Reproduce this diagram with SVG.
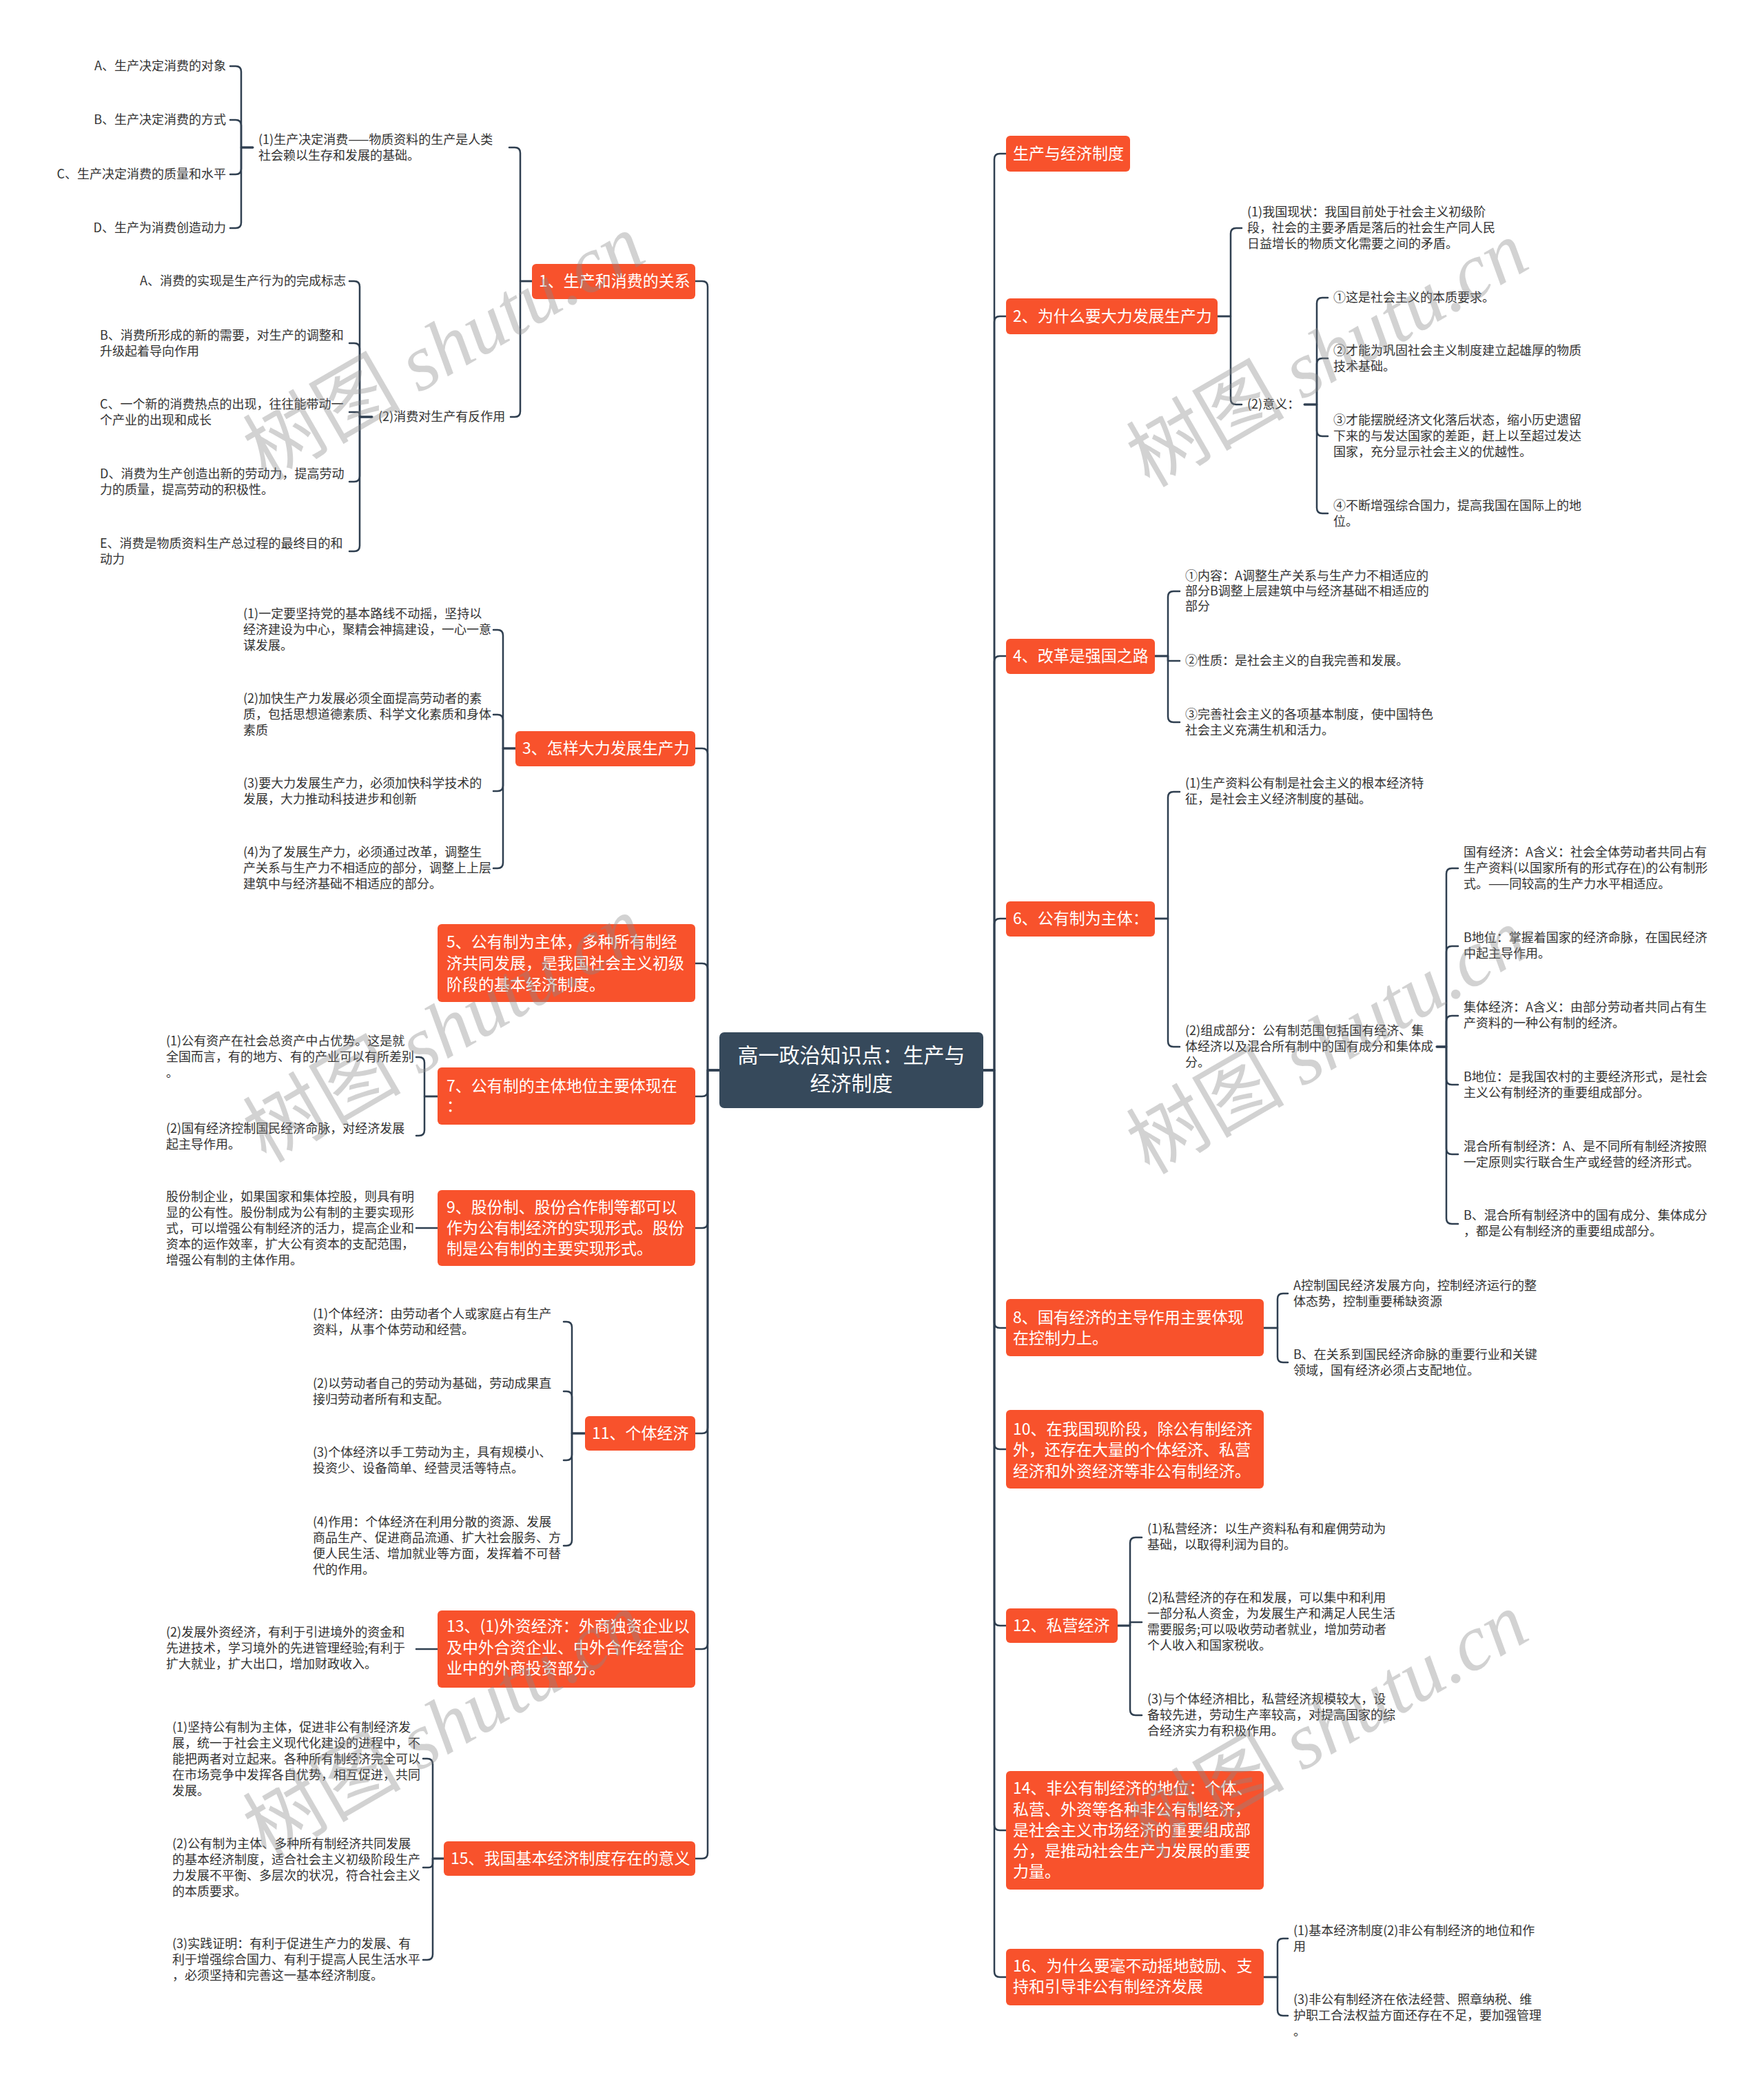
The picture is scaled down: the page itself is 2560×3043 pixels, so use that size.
<svg xmlns="http://www.w3.org/2000/svg" width="2560" height="3043" viewBox="0 0 2560 3043">
<style>
.t{font-family:"Noto Sans CJK SC","Noto Sans",sans-serif;font-size:18px;fill:#333}
.o{font-family:"Noto Sans CJK SC","Noto Sans",sans-serif;font-size:23px;fill:#fff}
.ob{fill:#f8522c}
.c{fill:none;stroke:#2f3f50;stroke-width:2.5;stroke-linecap:round;stroke-linejoin:round}
.wm{font-family:"Noto Sans CJK SC","Liberation Serif",serif;font-size:115px;fill:#8a8a8a;fill-opacity:.38}
.wl{font-family:"Liberation Serif",serif;font-style:italic}
</style>
<rect width="2560" height="3043" fill="#fff"/>
<g id="connectors">
<path class="c" d="M1044 1553 H1027 V416 Q1027 408 1019 408 H1009"/>
<path class="c" d="M1044 1553 H1027 V1094 Q1027 1086 1019 1086 H1009"/>
<path class="c" d="M1044 1553 H1027 V1406 Q1027 1398 1019 1398 H1009"/>
<path class="c" d="M1044 1553 H1027 V1583 Q1027 1591 1019 1591 H1009"/>
<path class="c" d="M1044 1553 H1027 V1774 Q1027 1782 1019 1782 H1009"/>
<path class="c" d="M1044 1553 H1027 V2072 Q1027 2080 1019 2080 H1009"/>
<path class="c" d="M1044 1553 H1027 V2385 Q1027 2393 1019 2393 H1009"/>
<path class="c" d="M1044 1553 H1027 V2689 Q1027 2697 1019 2697 H1009"/>
<path class="c" d="M772 408 H755 V222 Q755 214 747 214 H739"/>
<path class="c" d="M772 408 H755 V597 Q755 605 747 605 H741"/>
<path class="c" d="M367 214 H350 V104 Q350 96 342 96 H334"/>
<path class="c" d="M367 214 H350 V182 Q350 174 342 174 H334"/>
<path class="c" d="M367 214 H350 V245 Q350 253 342 253 H334"/>
<path class="c" d="M367 214 H350 V323 Q350 331 342 331 H334"/>
<path class="c" d="M540 605 H522 V416 Q522 408 514 408 H507"/>
<path class="c" d="M540 605 H522 V506 Q522 498 514 498 H507"/>
<path class="c" d="M540 605 H522 V601 Q522 598 519 598 H507"/>
<path class="c" d="M540 605 H522 V691 Q522 699 514 699 H507"/>
<path class="c" d="M540 605 H522 V792 Q522 800 514 800 H507"/>
<path class="c" d="M748 1086 H730 V922 Q730 914 722 914 H716"/>
<path class="c" d="M748 1086 H730 V1045 Q730 1037 722 1037 H716"/>
<path class="c" d="M748 1086 H730 V1140 Q730 1148 722 1148 H716"/>
<path class="c" d="M748 1086 H730 V1252 Q730 1260 722 1260 H716"/>
<path class="c" d="M635 1591 H616 V1542 Q616 1534 608 1534 H604"/>
<path class="c" d="M635 1591 H616 V1640 Q616 1648 608 1648 H604"/>
<path class="c" d="M635 1782 H604"/>
<path class="c" d="M849 2080 H830 V1926 Q830 1918 822 1918 H818"/>
<path class="c" d="M849 2080 H830 V2027 Q830 2019 822 2019 H818"/>
<path class="c" d="M849 2080 H830 V2111 Q830 2119 822 2119 H818"/>
<path class="c" d="M849 2080 H830 V2235 Q830 2243 822 2243 H818"/>
<path class="c" d="M635 2393 H604"/>
<path class="c" d="M644 2697 H628 V2560 Q628 2552 620 2552 H614"/>
<path class="c" d="M644 2697 H628 V2704 Q628 2710 622 2710 H614"/>
<path class="c" d="M644 2697 H628 V2836 Q628 2844 620 2844 H614"/>
<path class="c" d="M1427 1553 H1443 V231 Q1443 223 1451 223 H1460"/>
<path class="c" d="M1427 1553 H1443 V467 Q1443 459 1451 459 H1460"/>
<path class="c" d="M1427 1553 H1443 V960 Q1443 952 1451 952 H1460"/>
<path class="c" d="M1427 1553 H1443 V1341 Q1443 1333 1451 1333 H1460"/>
<path class="c" d="M1427 1553 H1443 V1919 Q1443 1927 1451 1927 H1460"/>
<path class="c" d="M1427 1553 H1443 V2095 Q1443 2103 1451 2103 H1460"/>
<path class="c" d="M1427 1553 H1443 V2351 Q1443 2359 1451 2359 H1460"/>
<path class="c" d="M1427 1553 H1443 V2648 Q1443 2656 1451 2656 H1460"/>
<path class="c" d="M1427 1553 H1443 V2861 Q1443 2869 1451 2869 H1460"/>
<path class="c" d="M1767 459 H1786 V339 Q1786 331 1794 331 H1802"/>
<path class="c" d="M1767 459 H1786 V579 Q1786 587 1794 587 H1802"/>
<path class="c" d="M1893 587 H1911 V440 Q1911 432 1919 432 H1927"/>
<path class="c" d="M1893 587 H1911 V528 Q1911 520 1919 520 H1927"/>
<path class="c" d="M1893 587 H1911 V625 Q1911 633 1919 633 H1927"/>
<path class="c" d="M1893 587 H1911 V737 Q1911 745 1919 745 H1927"/>
<path class="c" d="M1676 952 H1695 V866 Q1695 858 1703 858 H1712"/>
<path class="c" d="M1676 952 H1695 V959 H1712"/>
<path class="c" d="M1676 952 H1695 V1040 Q1695 1048 1703 1048 H1712"/>
<path class="c" d="M1676 1333 H1695 V1157 Q1695 1149 1703 1149 H1712"/>
<path class="c" d="M1676 1333 H1695 V1511 Q1695 1519 1703 1519 H1712"/>
<path class="c" d="M2085 1519 H2099 V1268 Q2099 1260 2107 1260 H2116"/>
<path class="c" d="M2085 1519 H2099 V1381 Q2099 1373 2107 1373 H2116"/>
<path class="c" d="M2085 1519 H2099 V1482 Q2099 1474 2107 1474 H2116"/>
<path class="c" d="M2085 1519 H2099 V1566 Q2099 1574 2107 1574 H2116"/>
<path class="c" d="M2085 1519 H2099 V1667 Q2099 1675 2107 1675 H2116"/>
<path class="c" d="M2085 1519 H2099 V1768 Q2099 1776 2107 1776 H2116"/>
<path class="c" d="M1834 1927 H1854 V1885 Q1854 1877 1862 1877 H1869"/>
<path class="c" d="M1834 1927 H1854 V1969 Q1854 1977 1862 1977 H1869"/>
<path class="c" d="M1622 2359 H1640 V2239 Q1640 2231 1648 2231 H1657"/>
<path class="c" d="M1622 2359 H1640 V2354 H1657"/>
<path class="c" d="M1622 2359 H1640 V2481 Q1640 2489 1648 2489 H1657"/>
<path class="c" d="M1834 2869 H1854 V2821 Q1854 2813 1862 2813 H1869"/>
<path class="c" d="M1834 2869 H1854 V2917 Q1854 2925 1862 2925 H1869"/>
</g>
<g id="root">
<rect x="1044" y="1498" width="383" height="110" rx="7" fill="#36495b"/>
<text x="1235.5" y="1542" text-anchor="middle" font-family="Noto Sans CJK SC, Noto Sans, sans-serif" font-size="30" fill="#fff">高一政治知识点：生产与</text>
<text x="1235.5" y="1583" text-anchor="middle" font-family="Noto Sans CJK SC, Noto Sans, sans-serif" font-size="30" fill="#fff">经济制度</text>
</g>
<g id="n1"><rect class="ob" x="772" y="383" width="237" height="51" rx="6"/><text class="o" x="782" y="416">1、生产和消费的关系</text></g>
<g id="n1-1"><text class="t" x="375" y="209">(1)生产决定消费——物质资料的生产是人类</text><text class="t" x="375" y="232">社会赖以生存和发展的基础。</text></g>
<g id="n1-1-a"><text class="t" x="328" y="102" text-anchor="end">A、生产决定消费的对象</text></g>
<g id="n1-1-b"><text class="t" x="328" y="180" text-anchor="end">B、生产决定消费的方式</text></g>
<g id="n1-1-c"><text class="t" x="328" y="259" text-anchor="end">C、生产决定消费的质量和水平</text></g>
<g id="n1-1-d"><text class="t" x="328" y="337" text-anchor="end">D、生产为消费创造动力</text></g>
<g id="n1-2"><text class="t" x="549" y="611">(2)消费对生产有反作用</text></g>
<g id="n1-2-a"><text class="t" x="502" y="414" text-anchor="end">A、消费的实现是生产行为的完成标志</text></g>
<g id="n1-2-b"><text class="t" x="145" y="493">B、消费所形成的新的需要，对生产的调整和</text><text class="t" x="145" y="516">升级起着导向作用</text></g>
<g id="n1-2-c"><text class="t" x="145" y="593">C、一个新的消费热点的出现，往往能带动一</text><text class="t" x="145" y="616">个产业的出现和成长</text></g>
<g id="n1-2-d"><text class="t" x="145" y="694">D、消费为生产创造出新的劳动力，提高劳动</text><text class="t" x="145" y="717">力的质量，提高劳动的积极性。</text></g>
<g id="n1-2-e"><text class="t" x="145" y="795">E、消费是物质资料生产总过程的最终目的和</text><text class="t" x="145" y="818">动力</text></g>
<g id="n3"><rect class="ob" x="748" y="1061" width="261" height="51" rx="6"/><text class="o" x="758" y="1094">3、怎样大力发展生产力</text></g>
<g id="n3-1"><text class="t" x="353" y="897">(1)一定要坚持党的基本路线不动摇，坚持以</text><text class="t" x="353" y="920">经济建设为中心，聚精会神搞建设，一心一意</text><text class="t" x="353" y="943">谋发展。</text></g>
<g id="n3-2"><text class="t" x="353" y="1020">(2)加快生产力发展必须全面提高劳动者的素</text><text class="t" x="353" y="1043">质，包括思想道德素质、科学文化素质和身体</text><text class="t" x="353" y="1066">素质</text></g>
<g id="n3-3"><text class="t" x="353" y="1143">(3)要大力发展生产力，必须加快科学技术的</text><text class="t" x="353" y="1166">发展，大力推动科技进步和创新</text></g>
<g id="n3-4"><text class="t" x="353" y="1243">(4)为了发展生产力，必须通过改革，调整生</text><text class="t" x="353" y="1266">产关系与生产力不相适应的部分，调整上上层</text><text class="t" x="353" y="1289">建筑中与经济基础不相适应的部分。</text></g>
<g id="n5"><rect class="ob" x="635" y="1341" width="374" height="113" rx="6"/><text class="o" x="648" y="1375">5、公有制为主体，多种所有制经</text><text class="o" x="648" y="1406">济共同发展，是我国社会主义初级</text><text class="o" x="648" y="1437">阶段的基本经济制度。</text></g>
<g id="n7"><rect class="ob" x="635" y="1549" width="374" height="83" rx="6"/><text class="o" x="648" y="1584">7、公有制的主体地位主要体现在</text><text class="o" x="648" y="1613">：</text></g>
<g id="n7-1"><text class="t" x="241" y="1517">(1)公有资产在社会总资产中占优势。这是就</text><text class="t" x="241" y="1540">全国而言，有的地方、有的产业可以有所差别</text><text class="t" x="241" y="1563">。</text></g>
<g id="n7-2"><text class="t" x="241" y="1644">(2)国有经济控制国民经济命脉，对经济发展</text><text class="t" x="241" y="1667">起主导作用。</text></g>
<g id="n9"><rect class="ob" x="635" y="1727" width="374" height="110" rx="6"/><text class="o" x="648" y="1760">9、股份制、股份合作制等都可以</text><text class="o" x="648" y="1790">作为公有制经济的实现形式。股份</text><text class="o" x="648" y="1820">制是公有制的主要实现形式。</text></g>
<g id="n9-1"><text class="t" x="241" y="1743">股份制企业，如果国家和集体控股，则具有明</text><text class="t" x="241" y="1766">显的公有性。股份制成为公有制的主要实现形</text><text class="t" x="241" y="1789">式，可以增强公有制经济的活力，提高企业和</text><text class="t" x="241" y="1812">资本的运作效率，扩大公有资本的支配范围，</text><text class="t" x="241" y="1835">增强公有制的主体作用。</text></g>
<g id="n11"><rect class="ob" x="849" y="2055" width="160" height="50" rx="6"/><text class="o" x="859" y="2088">11、个体经济</text></g>
<g id="n11-1"><text class="t" x="454" y="1913">(1)个体经济：由劳动者个人或家庭占有生产</text><text class="t" x="454" y="1936">资料，从事个体劳动和经营。</text></g>
<g id="n11-2"><text class="t" x="454" y="2014">(2)以劳动者自己的劳动为基础，劳动成果直</text><text class="t" x="454" y="2037">接归劳动者所有和支配。</text></g>
<g id="n11-3"><text class="t" x="454" y="2114">(3)个体经济以手工劳动为主，具有规模小、</text><text class="t" x="454" y="2137">投资少、设备简单、经营灵活等特点。</text></g>
<g id="n11-4"><text class="t" x="454" y="2215">(4)作用：个体经济在利用分散的资源、发展</text><text class="t" x="454" y="2238">商品生产、促进商品流通、扩大社会服务、方</text><text class="t" x="454" y="2261">便人民生活、增加就业等方面，发挥着不可替</text><text class="t" x="454" y="2284">代的作用。</text></g>
<g id="n13"><rect class="ob" x="635" y="2337" width="374" height="112" rx="6"/><text class="o" x="648" y="2368">13、(1)外资经济：外商独资企业以</text><text class="o" x="648" y="2399">及中外合资企业、中外合作经营企</text><text class="o" x="648" y="2429">业中的外商投资部分。</text></g>
<g id="n13-1"><text class="t" x="241" y="2375">(2)发展外资经济，有利于引进境外的资金和</text><text class="t" x="241" y="2398">先进技术，学习境外的先进管理经验;有利于</text><text class="t" x="241" y="2421">扩大就业，扩大出口，增加财政收入。</text></g>
<g id="n15"><rect class="ob" x="644" y="2672" width="365" height="50" rx="6"/><text class="o" x="654" y="2705">15、我国基本经济制度存在的意义</text></g>
<g id="n15-1"><text class="t" x="250" y="2513">(1)坚持公有制为主体，促进非公有制经济发</text><text class="t" x="250" y="2536">展，统一于社会主义现代化建设的进程中，不</text><text class="t" x="250" y="2559">能把两者对立起来。各种所有制经济完全可以</text><text class="t" x="250" y="2582">在市场竞争中发挥各自优势，相互促进，共同</text><text class="t" x="250" y="2605">发展。</text></g>
<g id="n15-2"><text class="t" x="250" y="2682">(2)公有制为主体、多种所有制经济共同发展</text><text class="t" x="250" y="2705">的基本经济制度，适合社会主义初级阶段生产</text><text class="t" x="250" y="2728">力发展不平衡、多层次的状况，符合社会主义</text><text class="t" x="250" y="2751">的本质要求。</text></g>
<g id="n15-3"><text class="t" x="250" y="2827">(3)实践证明：有利于促进生产力的发展、有</text><text class="t" x="250" y="2850">利于增强综合国力、有利于提高人民生活水平</text><text class="t" x="250" y="2873">，必须坚持和完善这一基本经济制度。</text></g>
<g id="r0"><rect class="ob" x="1460" y="197" width="180" height="52" rx="6"/><text class="o" x="1470" y="231">生产与经济制度</text></g>
<g id="r2"><rect class="ob" x="1460" y="433" width="307" height="52" rx="6"/><text class="o" x="1470" y="467">2、为什么要大力发展生产力</text></g>
<g id="r2-1"><text class="t" x="1810" y="314">(1)我国现状：我国目前处于社会主义初级阶</text><text class="t" x="1810" y="337">段，社会的主要矛盾是落后的社会生产同人民</text><text class="t" x="1810" y="360">日益增长的物质文化需要之间的矛盾。</text></g>
<g id="r2-2"><text class="t" x="1810" y="593">(2)意义：</text></g>
<g id="r2-2-1"><text class="t" x="1935" y="438">①这是社会主义的本质要求。</text></g>
<g id="r2-2-2"><text class="t" x="1935" y="515">②才能为巩固社会主义制度建立起雄厚的物质</text><text class="t" x="1935" y="538">技术基础。</text></g>
<g id="r2-2-3"><text class="t" x="1935" y="616">③才能摆脱经济文化落后状态，缩小历史遗留</text><text class="t" x="1935" y="639">下来的与发达国家的差距，赶上以至超过发达</text><text class="t" x="1935" y="662">国家，充分显示社会主义的优越性。</text></g>
<g id="r2-2-4"><text class="t" x="1935" y="740">④不断增强综合国力，提高我国在国际上的地</text><text class="t" x="1935" y="763">位。</text></g>
<g id="r4"><rect class="ob" x="1460" y="927" width="216" height="51" rx="6"/><text class="o" x="1470" y="960">4、改革是强国之路</text></g>
<g id="r4-1"><text class="t" x="1720" y="842">①内容：A调整生产关系与生产力不相适应的</text><text class="t" x="1720" y="864">部分B调整上层建筑中与经济基础不相适应的</text><text class="t" x="1720" y="886">部分</text></g>
<g id="r4-2"><text class="t" x="1720" y="965">②性质：是社会主义的自我完善和发展。</text></g>
<g id="r4-3"><text class="t" x="1720" y="1043">③完善社会主义的各项基本制度，使中国特色</text><text class="t" x="1720" y="1066">社会主义充满生机和活力。</text></g>
<g id="r6"><rect class="ob" x="1460" y="1308" width="216" height="51" rx="6"/><text class="o" x="1470" y="1341">6、公有制为主体：</text></g>
<g id="r6-1"><text class="t" x="1720" y="1143">(1)生产资料公有制是社会主义的根本经济特</text><text class="t" x="1720" y="1166">征，是社会主义经济制度的基础。</text></g>
<g id="r6-2"><text class="t" x="1720" y="1502">(2)组成部分：公有制范围包括国有经济、集</text><text class="t" x="1720" y="1525">体经济以及混合所有制中的国有成分和集体成</text><text class="t" x="1720" y="1548">分。</text></g>
<g id="r6-2-1"><text class="t" x="2124" y="1243">国有经济：A含义：社会全体劳动者共同占有</text><text class="t" x="2124" y="1266">生产资料(以国家所有的形式存在)的公有制形</text><text class="t" x="2124" y="1289">式。——同较高的生产力水平相适应。</text></g>
<g id="r6-2-2"><text class="t" x="2124" y="1367">B地位：掌握着国家的经济命脉，在国民经济</text><text class="t" x="2124" y="1390">中起主导作用。</text></g>
<g id="r6-2-3"><text class="t" x="2124" y="1468">集体经济：A含义：由部分劳动者共同占有生</text><text class="t" x="2124" y="1491">产资料的一种公有制的经济。</text></g>
<g id="r6-2-4"><text class="t" x="2124" y="1569">B地位：是我国农村的主要经济形式，是社会</text><text class="t" x="2124" y="1592">主义公有制经济的重要组成部分。</text></g>
<g id="r6-2-5"><text class="t" x="2124" y="1670">混合所有制经济：A、是不同所有制经济按照</text><text class="t" x="2124" y="1693">一定原则实行联合生产或经营的经济形式。</text></g>
<g id="r6-2-6"><text class="t" x="2124" y="1770">B、混合所有制经济中的国有成分、集体成分</text><text class="t" x="2124" y="1793">，都是公有制经济的重要组成部分。</text></g>
<g id="r8"><rect class="ob" x="1460" y="1885" width="374" height="83" rx="6"/><text class="o" x="1470" y="1920">8、国有经济的主导作用主要体现</text><text class="o" x="1470" y="1950">在控制力上。</text></g>
<g id="r8-1"><text class="t" x="1877" y="1872">A控制国民经济发展方向，控制经济运行的整</text><text class="t" x="1877" y="1895">体态势，控制重要稀缺资源</text></g>
<g id="r8-2"><text class="t" x="1877" y="1972">B、在关系到国民经济命脉的重要行业和关键</text><text class="t" x="1877" y="1995">领域，国有经济必须占支配地位。</text></g>
<g id="r10"><rect class="ob" x="1460" y="2046" width="374" height="114" rx="6"/><text class="o" x="1470" y="2082">10、在我国现阶段，除公有制经济</text><text class="o" x="1470" y="2112">外，还存在大量的个体经济、私营</text><text class="o" x="1470" y="2143">经济和外资经济等非公有制经济。</text></g>
<g id="r12"><rect class="ob" x="1460" y="2334" width="162" height="50" rx="6"/><text class="o" x="1470" y="2367">12、私营经济</text></g>
<g id="r12-1"><text class="t" x="1665" y="2225">(1)私营经济：以生产资料私有和雇佣劳动为</text><text class="t" x="1665" y="2248">基础，以取得利润为目的。</text></g>
<g id="r12-2"><text class="t" x="1665" y="2325">(2)私营经济的存在和发展，可以集中和利用</text><text class="t" x="1665" y="2348">一部分私人资金，为发展生产和满足人民生活</text><text class="t" x="1665" y="2371">需要服务;可以吸收劳动者就业，增加劳动者</text><text class="t" x="1665" y="2394">个人收入和国家税收。</text></g>
<g id="r12-3"><text class="t" x="1665" y="2472">(3)与个体经济相比，私营经济规模较大，设</text><text class="t" x="1665" y="2495">备较先进，劳动生产率较高，对提高国家的综</text><text class="t" x="1665" y="2518">合经济实力有积极作用。</text></g>
<g id="r14"><rect class="ob" x="1460" y="2570" width="374" height="172" rx="6"/><text class="o" x="1470" y="2603">14、非公有制经济的地位：个体、</text><text class="o" x="1470" y="2634">私营、外资等各种非公有制经济，</text><text class="o" x="1470" y="2664">是社会主义市场经济的重要组成部</text><text class="o" x="1470" y="2694">分，是推动社会生产力发展的重要</text><text class="o" x="1470" y="2724">力量。</text></g>
<g id="r16"><rect class="ob" x="1460" y="2828" width="374" height="82" rx="6"/><text class="o" x="1470" y="2861">16、为什么要毫不动摇地鼓励、支</text><text class="o" x="1470" y="2891">持和引导非公有制经济发展</text></g>
<g id="r16-1"><text class="t" x="1877" y="2808">(1)基本经济制度(2)非公有制经济的地位和作</text><text class="t" x="1877" y="2831">用</text></g>
<g id="r16-2"><text class="t" x="1877" y="2908">(3)非公有制经济在依法经营、照章纳税、维</text><text class="t" x="1877" y="2931">护职工合法权益方面还存在不足，要加强管理</text><text class="t" x="1877" y="2954">。</text></g>
<g id="watermarks" class="wm">
<text transform="translate(645,505) rotate(-30)" text-anchor="middle" y="38">树图 <tspan class="wl">shutu.cn</tspan></text>
<text transform="translate(1927,515) rotate(-30)" text-anchor="middle" y="38">树图 <tspan class="wl">shutu.cn</tspan></text>
<text transform="translate(645,1495) rotate(-30)" text-anchor="middle" y="38">树图 <tspan class="wl">shutu.cn</tspan></text>
<text transform="translate(1927,1512) rotate(-30)" text-anchor="middle" y="38">树图 <tspan class="wl">shutu.cn</tspan></text>
<text transform="translate(645,2505) rotate(-30)" text-anchor="middle" y="38">树图 <tspan class="wl">shutu.cn</tspan></text>
<text transform="translate(1927,2505) rotate(-30)" text-anchor="middle" y="38">树图 <tspan class="wl">shutu.cn</tspan></text>
</g>
</svg>
